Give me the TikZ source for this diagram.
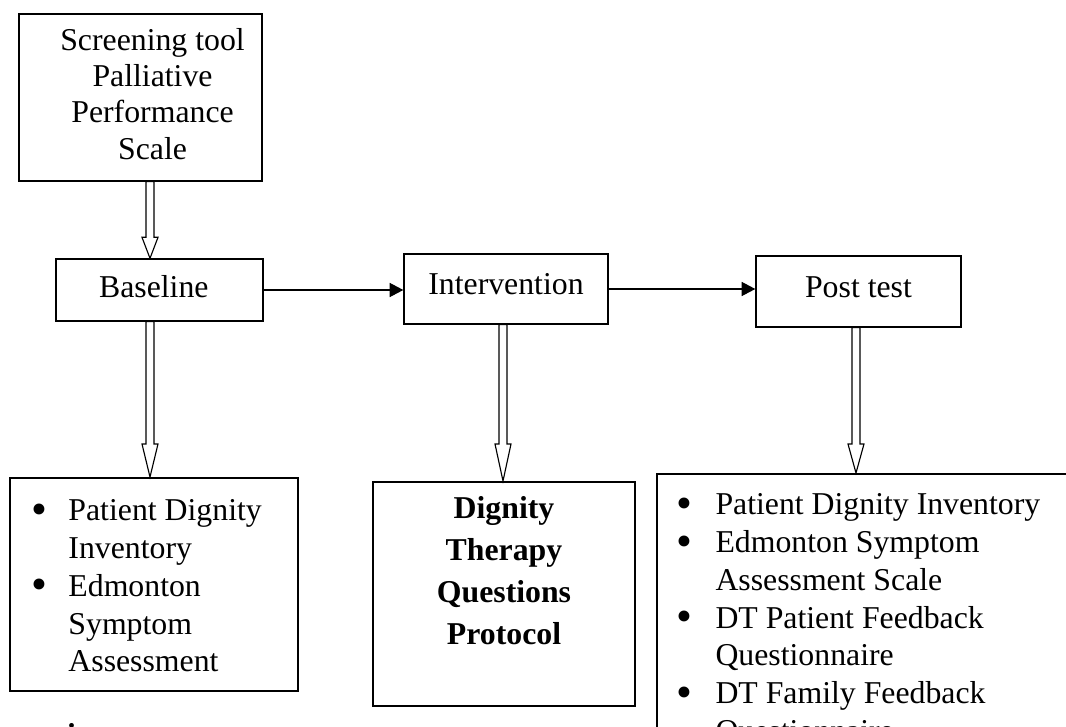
\documentclass[tikz,border=0pt]{standalone}
\usepackage{fontspec}
\setmainfont{Liberation Serif}
\usetikzlibrary{arrows.meta,calc}
\def\pxu{0.4405pt}
\newcommand\bigdot[1]{\makebox[#1][l]{\smash{\raisebox{-1.6pt}{\fontsize{20}{20}\selectfont\textbullet}}}}

\begin{document}
\begin{tikzpicture}[
  x=\pxu, y=-\pxu,
  font          = {\fontsize{14}{16.6}\selectfont},
  stage/.style  = {draw, line width=0.6pt, inner sep=0pt, align=center},
  listbox/.style= {draw, line width=0.7pt, inner sep=0pt, anchor=north west},
  listtxt/.style= {inner sep=0pt, anchor=base west},
  flow/.style   = {-{Triangle[length=6pt,width=6.2pt]}, line width=0.5pt},
  hollow/.style = {draw, line width=0.5pt, fill=white, line join=miter},
]

\useasboundingbox (0,0) rectangle (1066,727);
\clip (0,0) rectangle (1066,727);
\fill[white] (0,0) rectangle (1066,727);

% Top row: stages
\node[stage, minimum width=243*\pxu, minimum height=167*\pxu,
      font={\fontsize{14}{16}\selectfont}] (scr) at (140.5,97.5)
      {\begin{tabular}{@{\hspace{10.6pt}}c@{}}Screening tool\\Palliative\\Performance\\Scale\end{tabular}};
\node[stage, minimum width=207*\pxu, minimum height=62*\pxu]  (base) at (159.5,290)
      {\begin{tabular}{@{}c@{\hspace{5pt}}}Baseline\end{tabular}};
\node[stage, minimum width=204*\pxu, minimum height=70*\pxu, text depth=4pt] (int)  at (506,289)   {Intervention};
\node[stage, minimum width=205*\pxu, minimum height=71*\pxu, text depth=4pt] (post) at (858.5,291.5) {Post test};

% Bottom row: measures
\node[listbox, minimum width=288*\pxu, minimum height=213*\pxu] (lbox) at (9,477) {};
\node[listbox, minimum width=262*\pxu, minimum height=224*\pxu] (mbox) at (372,481) {};
\node[listbox, minimum width=430*\pxu, minimum height=300*\pxu] (rbox) at (656,473) {};

\node[listtxt] (ltxt) at (31,521) {\begin{tabular}[t]{@{}l@{}}
  \bigdot{16.3pt}Patient Dignity\\
  \hspace*{16.3pt}Inventory\\
  \bigdot{16.3pt}Edmonton\\
  \hspace*{16.3pt}Symptom\\
  \hspace*{16.3pt}Assessment
\end{tabular}};
\node[inner sep=0pt, anchor=base, font={\fontsize{14}{18.5}\selectfont\bfseries}] (mtxt) at (504,519)
  {\begin{tabular}[t]{@{}c@{}}Dignity\\Therapy\\Questions\\Protocol\end{tabular}};
\node[listtxt] (rtxt) at (676,515) {\begin{tabular}[t]{@{}l@{}}
  \bigdot{17.2pt}Patient Dignity Inventory\\
  \bigdot{17.2pt}Edmonton Symptom\\
  \hspace*{17.2pt}Assessment Scale\\
  \bigdot{17.2pt}DT Patient Feedback\\
  \hspace*{17.2pt}Questionnaire\\
  \bigdot{17.2pt}DT Family Feedback\\
  \hspace*{17.2pt}Questionnaire
\end{tabular}};
\node[inner sep=0pt, anchor=base west, font={\fontsize{14}{16.6}\selectfont\bfseries}] (cut) at (56,746) {tion};

% Flow between stages
\draw[flow] (base.east) -- (base.east -| int.west);
\draw[flow] (int.east) -- (int.east -| post.west);

% Hollow block arrows
\coordinate (a1) at (150,0);
\coordinate (a3) at (503,0);
\coordinate (a4) at (856,0);
\foreach \ax/\from/\to/\hl in {a1/scr/base/21, a1/base/lbox/33, a3/int/mbox/37, a4/post/rbox/29}
  \draw[hollow] ($(\ax|-\from.south)+(-4,0)$) -- ($(\ax|-\to.north)+(-4,-\hl)$)
    -- ($(\ax|-\to.north)+(-8,-\hl)$) -- (\ax|-\to.north)
    -- ($(\ax|-\to.north)+(8,-\hl)$) -- ($(\ax|-\to.north)+(4,-\hl)$)
    -- ($(\ax|-\from.south)+(4,0)$) -- cycle;

\end{tikzpicture}
\end{document}
